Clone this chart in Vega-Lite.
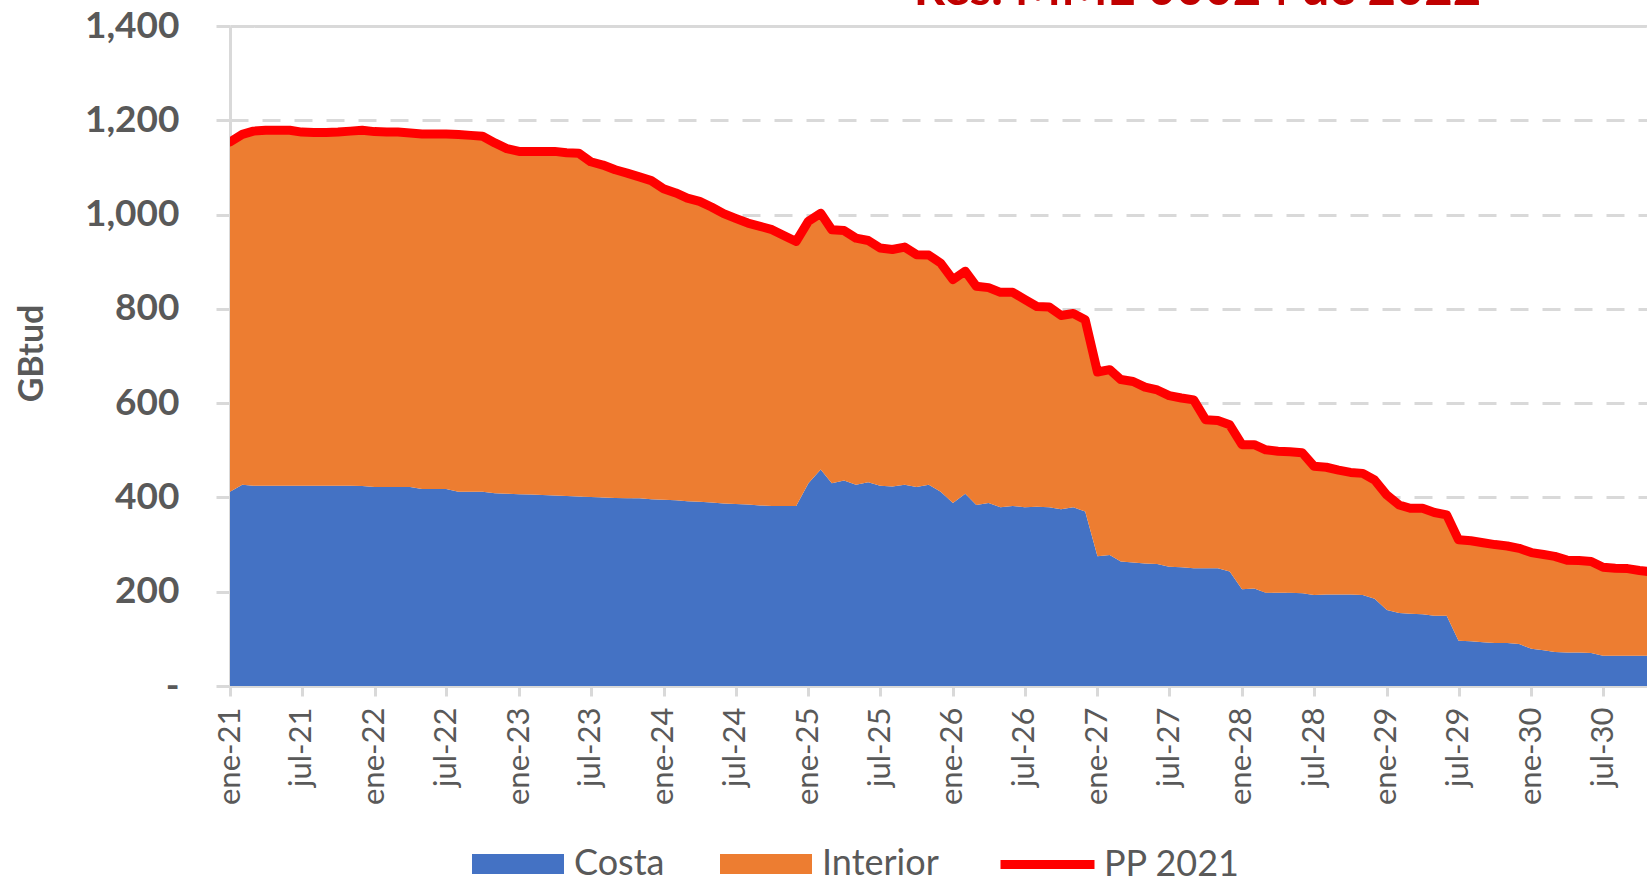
{
  "$schema": "https://vega.github.io/schema/vega-lite/v6.json",
  "autosize": "none",
  "width": 1417,
  "height": 660,
  "padding": {"left": 230, "top": 26, "right": 0, "bottom": 195},
  "background": "white",
  "config": {"font": "Lato", "view": {"stroke": null}},
  "datasets": {
    "titulo": [{"texto": "Res. MME 00024 de 2022", "fecha": "2025-09-24", "y": 1445}]
  },
  "data": {"values": [
    {"fecha":"2021-01-01","Costa":412,"Interior":742,"PP2021":1154},
    {"fecha":"2021-02-01","Costa":427,"Interior":743,"PP2021":1170},
    {"fecha":"2021-03-01","Costa":425,"Interior":752,"PP2021":1177},
    {"fecha":"2021-04-01","Costa":425,"Interior":754,"PP2021":1179},
    {"fecha":"2021-05-01","Costa":425,"Interior":754,"PP2021":1179},
    {"fecha":"2021-06-01","Costa":425,"Interior":754,"PP2021":1179},
    {"fecha":"2021-07-01","Costa":425,"Interior":750,"PP2021":1175},
    {"fecha":"2021-08-01","Costa":425,"Interior":749,"PP2021":1174},
    {"fecha":"2021-09-01","Costa":425,"Interior":749,"PP2021":1174},
    {"fecha":"2021-10-01","Costa":425,"Interior":750,"PP2021":1175},
    {"fecha":"2021-11-01","Costa":425,"Interior":752,"PP2021":1177},
    {"fecha":"2021-12-01","Costa":424,"Interior":755,"PP2021":1179},
    {"fecha":"2022-01-01","Costa":422,"Interior":754,"PP2021":1176},
    {"fecha":"2022-02-01","Costa":422,"Interior":753,"PP2021":1175},
    {"fecha":"2022-03-01","Costa":422,"Interior":753,"PP2021":1175},
    {"fecha":"2022-04-01","Costa":422,"Interior":751,"PP2021":1173},
    {"fecha":"2022-05-01","Costa":418,"Interior":753,"PP2021":1171},
    {"fecha":"2022-06-01","Costa":418,"Interior":753,"PP2021":1171},
    {"fecha":"2022-07-01","Costa":418,"Interior":753,"PP2021":1171},
    {"fecha":"2022-08-01","Costa":412,"Interior":758,"PP2021":1170},
    {"fecha":"2022-09-01","Costa":412,"Interior":756,"PP2021":1168},
    {"fecha":"2022-10-01","Costa":412,"Interior":754,"PP2021":1166},
    {"fecha":"2022-11-01","Costa":409,"Interior":743,"PP2021":1152},
    {"fecha":"2022-12-01","Costa":408,"Interior":732,"PP2021":1140},
    {"fecha":"2023-01-01","Costa":407,"Interior":727,"PP2021":1134},
    {"fecha":"2023-02-01","Costa":406,"Interior":728,"PP2021":1134},
    {"fecha":"2023-03-01","Costa":405,"Interior":729,"PP2021":1134},
    {"fecha":"2023-04-01","Costa":404,"Interior":730,"PP2021":1134},
    {"fecha":"2023-05-01","Costa":403,"Interior":728,"PP2021":1131},
    {"fecha":"2023-06-01","Costa":402,"Interior":728,"PP2021":1130},
    {"fecha":"2023-07-01","Costa":401,"Interior":711,"PP2021":1112},
    {"fecha":"2023-08-01","Costa":400,"Interior":705,"PP2021":1105},
    {"fecha":"2023-09-01","Costa":399,"Interior":696,"PP2021":1095},
    {"fecha":"2023-10-01","Costa":398,"Interior":690,"PP2021":1088},
    {"fecha":"2023-11-01","Costa":398,"Interior":682,"PP2021":1080},
    {"fecha":"2023-12-01","Costa":396,"Interior":676,"PP2021":1072},
    {"fecha":"2024-01-01","Costa":395,"Interior":660,"PP2021":1055},
    {"fecha":"2024-02-01","Costa":394,"Interior":652,"PP2021":1046},
    {"fecha":"2024-03-01","Costa":392,"Interior":643,"PP2021":1035},
    {"fecha":"2024-04-01","Costa":391,"Interior":637,"PP2021":1028},
    {"fecha":"2024-05-01","Costa":389,"Interior":627,"PP2021":1016},
    {"fecha":"2024-06-01","Costa":387,"Interior":615,"PP2021":1002},
    {"fecha":"2024-07-01","Costa":386,"Interior":606,"PP2021":992},
    {"fecha":"2024-08-01","Costa":385,"Interior":597,"PP2021":982},
    {"fecha":"2024-09-01","Costa":383,"Interior":592,"PP2021":975},
    {"fecha":"2024-10-01","Costa":382,"Interior":586,"PP2021":968},
    {"fecha":"2024-11-01","Costa":382,"Interior":573,"PP2021":955},
    {"fecha":"2024-12-01","Costa":382,"Interior":561,"PP2021":943},
    {"fecha":"2025-01-01","Costa":430,"Interior":556,"PP2021":986},
    {"fecha":"2025-02-01","Costa":459,"Interior":544,"PP2021":1003},
    {"fecha":"2025-03-01","Costa":430,"Interior":538,"PP2021":968},
    {"fecha":"2025-04-01","Costa":436,"Interior":530,"PP2021":966},
    {"fecha":"2025-05-01","Costa":427,"Interior":523,"PP2021":950},
    {"fecha":"2025-06-01","Costa":432,"Interior":513,"PP2021":945},
    {"fecha":"2025-07-01","Costa":425,"Interior":504,"PP2021":929},
    {"fecha":"2025-08-01","Costa":423,"Interior":503,"PP2021":926},
    {"fecha":"2025-09-01","Costa":427,"Interior":504,"PP2021":931},
    {"fecha":"2025-10-01","Costa":422,"Interior":493,"PP2021":915},
    {"fecha":"2025-11-01","Costa":427,"Interior":487,"PP2021":914},
    {"fecha":"2025-12-01","Costa":412,"Interior":485,"PP2021":897},
    {"fecha":"2026-01-01","Costa":388,"Interior":474,"PP2021":862},
    {"fecha":"2026-02-01","Costa":408,"Interior":472,"PP2021":880},
    {"fecha":"2026-03-01","Costa":384,"Interior":464,"PP2021":848},
    {"fecha":"2026-04-01","Costa":388,"Interior":457,"PP2021":845},
    {"fecha":"2026-05-01","Costa":379,"Interior":456,"PP2021":835},
    {"fecha":"2026-06-01","Costa":382,"Interior":453,"PP2021":835},
    {"fecha":"2026-07-01","Costa":379,"Interior":441,"PP2021":820},
    {"fecha":"2026-08-01","Costa":380,"Interior":425,"PP2021":805},
    {"fecha":"2026-09-01","Costa":379,"Interior":425,"PP2021":804},
    {"fecha":"2026-10-01","Costa":375,"Interior":411,"PP2021":786},
    {"fecha":"2026-11-01","Costa":379,"Interior":411,"PP2021":790},
    {"fecha":"2026-12-01","Costa":370,"Interior":407,"PP2021":777},
    {"fecha":"2027-01-01","Costa":275,"Interior":391,"PP2021":666},
    {"fecha":"2027-02-01","Costa":278,"Interior":393,"PP2021":671},
    {"fecha":"2027-03-01","Costa":264,"Interior":386,"PP2021":650},
    {"fecha":"2027-04-01","Costa":262,"Interior":384,"PP2021":646},
    {"fecha":"2027-05-01","Costa":260,"Interior":374,"PP2021":634},
    {"fecha":"2027-06-01","Costa":259,"Interior":369,"PP2021":628},
    {"fecha":"2027-07-01","Costa":253,"Interior":363,"PP2021":616},
    {"fecha":"2027-08-01","Costa":252,"Interior":359,"PP2021":611},
    {"fecha":"2027-09-01","Costa":250,"Interior":357,"PP2021":607},
    {"fecha":"2027-10-01","Costa":250,"Interior":315,"PP2021":565},
    {"fecha":"2027-11-01","Costa":250,"Interior":313,"PP2021":563},
    {"fecha":"2027-12-01","Costa":243,"Interior":311,"PP2021":554},
    {"fecha":"2028-01-01","Costa":205,"Interior":307,"PP2021":512},
    {"fecha":"2028-02-01","Costa":207,"Interior":305,"PP2021":512},
    {"fecha":"2028-03-01","Costa":198,"Interior":303,"PP2021":501},
    {"fecha":"2028-04-01","Costa":198,"Interior":300,"PP2021":498},
    {"fecha":"2028-05-01","Costa":198,"Interior":299,"PP2021":497},
    {"fecha":"2028-06-01","Costa":197,"Interior":298,"PP2021":495},
    {"fecha":"2028-07-01","Costa":193,"Interior":273,"PP2021":466},
    {"fecha":"2028-08-01","Costa":194,"Interior":270,"PP2021":464},
    {"fecha":"2028-09-01","Costa":194,"Interior":264,"PP2021":458},
    {"fecha":"2028-10-01","Costa":194,"Interior":259,"PP2021":453},
    {"fecha":"2028-11-01","Costa":193,"Interior":258,"PP2021":451},
    {"fecha":"2028-12-01","Costa":185,"Interior":252,"PP2021":437},
    {"fecha":"2029-01-01","Costa":161,"Interior":244,"PP2021":405},
    {"fecha":"2029-02-01","Costa":155,"Interior":229,"PP2021":384},
    {"fecha":"2029-03-01","Costa":153,"Interior":224,"PP2021":377},
    {"fecha":"2029-04-01","Costa":152,"Interior":225,"PP2021":377},
    {"fecha":"2029-05-01","Costa":149,"Interior":219,"PP2021":368},
    {"fecha":"2029-06-01","Costa":149,"Interior":214,"PP2021":363},
    {"fecha":"2029-07-01","Costa":96,"Interior":214,"PP2021":310},
    {"fecha":"2029-08-01","Costa":95,"Interior":213,"PP2021":308},
    {"fecha":"2029-09-01","Costa":93,"Interior":211,"PP2021":304},
    {"fecha":"2029-10-01","Costa":91,"Interior":209,"PP2021":300},
    {"fecha":"2029-11-01","Costa":91,"Interior":206,"PP2021":297},
    {"fecha":"2029-12-01","Costa":89,"Interior":203,"PP2021":292},
    {"fecha":"2030-01-01","Costa":79,"Interior":204,"PP2021":283},
    {"fecha":"2030-02-01","Costa":76,"Interior":203,"PP2021":279},
    {"fecha":"2030-03-01","Costa":72,"Interior":203,"PP2021":275},
    {"fecha":"2030-04-01","Costa":71,"Interior":196,"PP2021":267},
    {"fecha":"2030-05-01","Costa":71,"Interior":195,"PP2021":266},
    {"fecha":"2030-06-01","Costa":70,"Interior":194,"PP2021":264},
    {"fecha":"2030-07-01","Costa":64,"Interior":188,"PP2021":252},
    {"fecha":"2030-08-01","Costa":64,"Interior":186,"PP2021":250},
    {"fecha":"2030-09-01","Costa":64,"Interior":185,"PP2021":249},
    {"fecha":"2030-10-01","Costa":64,"Interior":181,"PP2021":245},
    {"fecha":"2030-11-01","Costa":64,"Interior":178,"PP2021":242},
    {"fecha":"2030-12-01","Costa":64,"Interior":176,"PP2021":240}
  ]},
  "layer": [
    {
      "transform": [{"fold": ["Costa", "Interior"], "as": ["serie", "valor"]}],
      "mark": {"type": "area", "clip": true, "opacity": 1},
      "encoding": {
        "x": {
          "field": "fecha", "type": "temporal",
          "scale": {"type": "utc", "nice": false, "domain": [{"year": 2021, "month": 1, "date": 1, "utc": true}, {"year": 2030, "month": 10, "date": 20, "utc": true}]},
          "axis": {
            "title": null,
            "values": [
              {"year": 2021, "month": 1, "date": 1, "utc": true}, {"year": 2021, "month": 7, "date": 1, "utc": true},
              {"year": 2022, "month": 1, "date": 1, "utc": true}, {"year": 2022, "month": 7, "date": 1, "utc": true},
              {"year": 2023, "month": 1, "date": 1, "utc": true}, {"year": 2023, "month": 7, "date": 1, "utc": true},
              {"year": 2024, "month": 1, "date": 1, "utc": true}, {"year": 2024, "month": 7, "date": 1, "utc": true},
              {"year": 2025, "month": 1, "date": 1, "utc": true}, {"year": 2025, "month": 7, "date": 1, "utc": true},
              {"year": 2026, "month": 1, "date": 1, "utc": true}, {"year": 2026, "month": 7, "date": 1, "utc": true},
              {"year": 2027, "month": 1, "date": 1, "utc": true}, {"year": 2027, "month": 7, "date": 1, "utc": true},
              {"year": 2028, "month": 1, "date": 1, "utc": true}, {"year": 2028, "month": 7, "date": 1, "utc": true},
              {"year": 2029, "month": 1, "date": 1, "utc": true}, {"year": 2029, "month": 7, "date": 1, "utc": true},
              {"year": 2030, "month": 1, "date": 1, "utc": true}, {"year": 2030, "month": 7, "date": 1, "utc": true}
            ],
            "labelExpr": "(utcmonth(datum.value) == 0 ? 'ene' : 'jul') + '-' + utcFormat(datum.value, '%y')",
            "labelAngle": -90,
            "labelFontSize": 31,
            "labelFont": "Lato",
            "labelColor": "#595959",
            "labelPadding": 11,
            "labelOverlap": false,
            "labelFlush": false,
            "labelBound": false,
            "tickSize": 10,
            "tickWidth": 3,
            "tickColor": "#d9d9d9",
            "domainColor": "#d9d9d9",
            "domainWidth": 3,
            "grid": false
          }
        },
        "y": {
          "field": "valor", "type": "quantitative", "stack": "zero",
          "scale": {"domain": [0, 1400], "nice": false},
          "axis": {
            "title": "GBtud",
            "titleFontSize": 34,
            "titleFont": "Lato",
            "titleFontWeight": "bold",
            "titleColor": "#595959",
            "titleAngle": -90,
            "titleX": -198,
            "titleY": 327,
            "titleAlign": "center",
            "titleBaseline": "middle",
            "values": [0, 200, 400, 600, 800, 1000, 1200, 1400],
            "labelExpr": "datum.value == 0 ? '-' : format(datum.value, ',')",
            "labelFontSize": 37,
            "labelFont": "Lato",
            "labelFontWeight": "bold",
            "labelColor": "#595959",
            "labelPadding": 37,
            "labelFlush": false,
            "tickSize": 14,
            "tickWidth": 3,
            "tickColor": "#d9d9d9",
            "domainColor": "#d9d9d9",
            "domainWidth": 3,
            "grid": true,
            "gridColor": "#d9d9d9",
            "gridWidth": 3,
            "gridDash": {"condition": {"test": "datum.value < 1400", "value": [18, 14]}, "value": [1, 0]}
          }
        },
        "order": {"field": "serie", "sort": "ascending"},
        "color": {
          "field": "serie", "type": "nominal",
          "scale": {"domain": ["Costa", "Interior"], "range": ["#4472C4", "#ED7D31"]},
          "legend": {
            "title": null,
            "orient": "none",
            "legendX": 242,
            "legendY": 792,
            "direction": "horizontal",
            "padding": 0,
            "symbolType": "M-1,-0.217L1,-0.217L1,0.217L-1,0.217Z",
            "symbolSize": 8464,
            "symbolStrokeWidth": 0,
            "symbolOpacity": 1,
            "labelFontSize": 36,
            "labelFont": "Lato",
            "labelColor": "#595959",
            "labelOffset": 10,
            "columnPadding": 55
          }
        }
      }
    },
    {
      "mark": {"type": "line", "clip": true, "strokeWidth": 9, "strokeJoin": "round", "strokeCap": "round"},
      "encoding": {
        "x": {"field": "fecha", "type": "temporal"},
        "y": {"field": "PP2021", "type": "quantitative"},
        "stroke": {
          "datum": "PP 2021",
          "type": "nominal",
          "scale": {"domain": ["PP 2021"], "range": ["#FF0000"]},
          "legend": {
            "title": null,
            "orient": "none",
            "legendX": 766,
            "legendY": 787,
            "padding": 0,
            "symbolType": "stroke",
            "symbolSize": 8836,
            "symbolStrokeWidth": 9,
            "labelFontSize": 36,
            "labelFont": "Lato",
            "labelColor": "#595959",
            "labelOffset": 5
          }
        }
      }
    },
    {
      "data": {"name": "titulo"},
      "mark": {"type": "text", "align": "left", "baseline": "alphabetic", "fontSize": 49, "fontWeight": "bold", "font": "Lato", "color": "#C00000", "clip": false},
      "encoding": {
        "x": {"field": "fecha", "type": "temporal"},
        "y": {"field": "y", "type": "quantitative"},
        "text": {"field": "texto"}
      }
    }
  ]
}
